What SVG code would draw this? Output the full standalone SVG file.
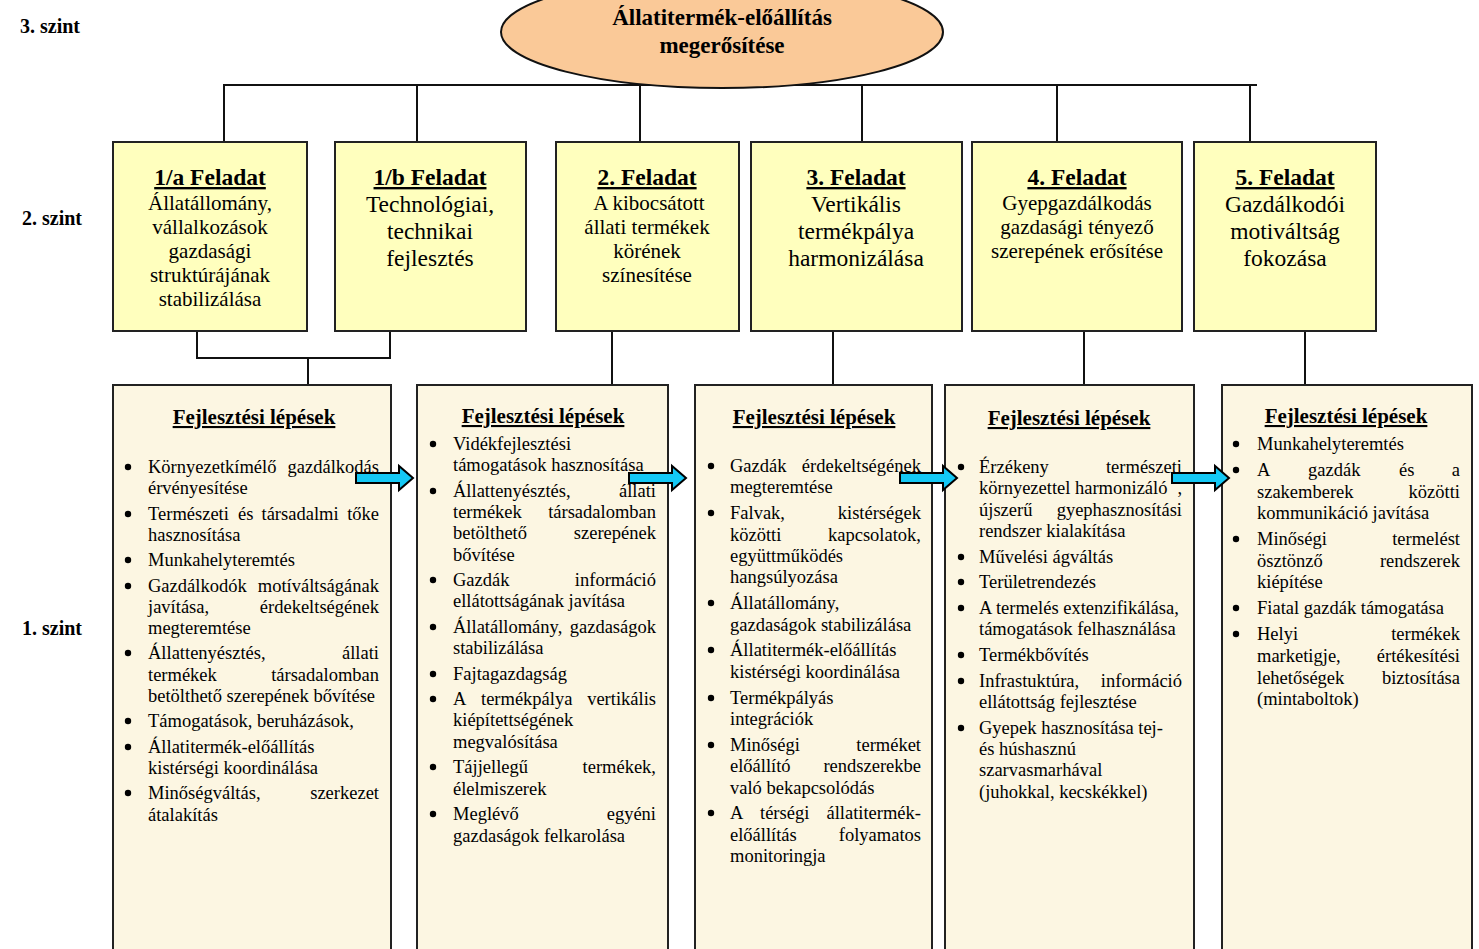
<svg xmlns="http://www.w3.org/2000/svg" width="1479" height="949" viewBox="0 0 1479 949">
<style>
text{font-family:"Liberation Serif","Times New Roman",serif;fill:#000}
.lvl{font-size:20px;font-weight:bold}
.ttl{font-size:23.5px;font-weight:bold;text-anchor:middle;text-decoration:underline}
.b21{font-size:21px;text-anchor:middle}
.b23{font-size:23.5px;text-anchor:middle}
.hdr{font-size:21px;font-weight:bold;text-anchor:middle;text-decoration:underline}
.t{font-size:18.5px}
.r{text-anchor:end}
.top{fill:#FFFFBE;stroke:#222;stroke-width:2}
.low{fill:#FCF6E2;stroke:#222;stroke-width:2}
.ln{stroke:#111;stroke-width:2;fill:none}
.arr{fill:#14C8F5;stroke:#000;stroke-width:2;stroke-linejoin:miter}
.bul{fill:#000}
</style>
<defs>
<polygon id="arrow" points="0,-5 43,-5 43,-12 57,0 43,12 43,5 0,5"/>
</defs>
<rect width="1479" height="949" fill="#fff"/>

<g id="levels">
<text class="lvl" x="20" y="33">3. szint</text>
<text class="lvl" x="22" y="225">2. szint</text>
<text class="lvl" x="22" y="635">1. szint</text>
</g>

<g id="connectors">
<path class="ln" d="M223,85 H1257"/>
<path class="ln" d="M224,85 V142 M417,85 V142 M640,85 V142 M862,85 V142 M1057,85 V142 M1250,85 V142"/>
<path class="ln" d="M197,331 V358 H390 V331 M308,358 V385"/>
<path class="ln" d="M612,331 V385 M833,331 V385 M1084,331 V385 M1305,331 V385"/>
</g>

<g id="goal">
<ellipse cx="722" cy="32" rx="221" ry="56" fill="#FAC998" stroke="#111" stroke-width="2"/>
<text x="722" y="25" style="font-size:23px;font-weight:bold;text-anchor:middle">Állatitermék-előállítás</text>
<text x="722" y="53" style="font-size:23px;font-weight:bold;text-anchor:middle">megerősítése</text>
</g>

<g id="task1a">
<rect class="top" x="113" y="142" width="194" height="189"/>
<text class="ttl" x="210" y="185">1/a Feladat</text>
<text class="b21" x="210" y="210">Állatállomány,</text>
<text class="b21" x="210" y="234">vállalkozások</text>
<text class="b21" x="210" y="258">gazdasági</text>
<text class="b21" x="210" y="282">struktúrájának</text>
<text class="b21" x="210" y="306">stabilizálása</text>
</g>
<g id="task1b">
<rect class="top" x="335" y="142" width="191" height="189"/>
<text class="ttl" x="430" y="185">1/b Feladat</text>
<text class="b23" x="430" y="212">Technológiai,</text>
<text class="b23" x="430" y="239">technikai</text>
<text class="b23" x="430" y="266">fejlesztés</text>
</g>
<g id="task2">
<rect class="top" x="556" y="142" width="183" height="189"/>
<text class="ttl" x="647" y="185">2. Feladat</text>
<text class="b21" x="649" y="210">A kibocsátott</text>
<text class="b21" x="647" y="234">állati termékek</text>
<text class="b21" x="647" y="258">körének</text>
<text class="b21" x="647" y="282">színesítése</text>
</g>
<g id="task3">
<rect class="top" x="751" y="142" width="211" height="189"/>
<text class="ttl" x="856" y="185">3. Feladat</text>
<text class="b23" x="856" y="212">Vertikális</text>
<text class="b23" x="856" y="239">termékpálya</text>
<text class="b23" x="856" y="266">harmonizálása</text>
</g>
<g id="task4">
<rect class="top" x="972" y="142" width="210" height="189"/>
<text class="ttl" x="1077" y="185">4. Feladat</text>
<text class="b21" x="1077" y="210">Gyepgazdálkodás</text>
<text class="b21" x="1077" y="234">gazdasági tényező</text>
<text class="b21" x="1077" y="258">szerepének erősítése</text>
</g>
<g id="task5">
<rect class="top" x="1194" y="142" width="182" height="189"/>
<text class="ttl" x="1285" y="185">5. Feladat</text>
<text class="b23" x="1285" y="212">Gazdálkodói</text>
<text class="b23" x="1285" y="239">motiváltság</text>
<text class="b23" x="1285" y="266">fokozása</text>
</g>

<g id="steps1">
<rect class="low" x="113" y="385" width="278" height="580"/>
<text class="hdr" x="254" y="424">Fejlesztési lépések</text>
<g class="bul">
<circle cx="128" cy="467" r="3.2"/><circle cx="128" cy="514" r="3.2"/><circle cx="128" cy="560" r="3.2"/><circle cx="128" cy="586" r="3.2"/><circle cx="128" cy="653" r="3.2"/><circle cx="128" cy="721" r="3.2"/><circle cx="128" cy="747" r="3.2"/><circle cx="128" cy="793" r="3.2"/>
</g>
<text class="t" x="148" y="473">Környezetkímélő</text><text class="t r" x="379" y="473">gazdálkodás</text>
<text class="t" x="148" y="494">érvényesítése</text>
<text class="t" x="148" y="520">Természeti</text><text class="t" x="238" y="520">és</text><text class="t" x="261.5" y="520">társadalmi</text><text class="t r" x="379" y="520">tőke</text>
<text class="t" x="148" y="541">hasznosítása</text>
<text class="t" x="148" y="566">Munkahelyteremtés</text>
<text class="t" x="148" y="592">Gazdálkodók</text><text class="t r" x="379" y="592">motíváltságának</text>
<text class="t" x="148" y="613">javítása,</text><text class="t r" x="379" y="613">érdekeltségének</text>
<text class="t" x="148" y="634">megteremtése</text>
<text class="t" x="148" y="659">Állattenyésztés,</text><text class="t r" x="379" y="659">állati</text>
<text class="t" x="148" y="681">termékek</text><text class="t r" x="379" y="681">társadalomban</text>
<text class="t" x="148" y="702">betölthető szerepének bővítése</text>
<text class="t" x="148" y="727">Támogatások, beruházások,</text>
<text class="t" x="148" y="753">Állatitermék-előállítás</text>
<text class="t" x="148" y="774">kistérségi koordinálása</text>
<text class="t" x="148" y="799">Minőségváltás,</text><text class="t r" x="379" y="799">szerkezet</text>
<text class="t" x="148" y="821">átalakítás</text>
</g>

<g id="steps2">
<rect class="low" x="417" y="385" width="251" height="580"/>
<text class="hdr" x="543" y="423">Fejlesztési lépések</text>
<g class="bul">
<circle cx="433" cy="444" r="3.2"/><circle cx="433" cy="491" r="3.2"/><circle cx="433" cy="580" r="3.2"/><circle cx="433" cy="627" r="3.2"/><circle cx="433" cy="674" r="3.2"/><circle cx="433" cy="699" r="3.2"/><circle cx="433" cy="767" r="3.2"/><circle cx="433" cy="814" r="3.2"/>
</g>
<text class="t" x="453" y="450">Vidékfejlesztési</text>
<text class="t" x="453" y="471">támogatások hasznosítása</text>
<text class="t" x="453" y="497">Állattenyésztés,</text><text class="t r" x="656" y="497">állati</text>
<text class="t" x="453" y="518">termékek</text><text class="t r" x="656" y="518">társadalomban</text>
<text class="t" x="453" y="539">betölthető</text><text class="t r" x="656" y="539">szerepének</text>
<text class="t" x="453" y="561">bővítése</text>
<text class="t" x="453" y="586">Gazdák</text><text class="t r" x="656" y="586">információ</text>
<text class="t" x="453" y="607">ellátottságának javítása</text>
<text class="t" x="453" y="633">Állatállomány,</text><text class="t r" x="656" y="633">gazdaságok</text>
<text class="t" x="453" y="654">stabilizálása</text>
<text class="t" x="453" y="680">Fajtagazdagság</text>
<text class="t" x="453" y="705">A</text><text class="t" x="481" y="705">termékpálya</text><text class="t r" x="656" y="705">vertikális</text>
<text class="t" x="453" y="726">kiépítettségének</text>
<text class="t" x="453" y="748">megvalósítása</text>
<text class="t" x="453" y="773">Tájjellegű</text><text class="t r" x="656" y="773">termékek,</text>
<text class="t" x="453" y="795">élelmiszerek</text>
<text class="t" x="453" y="820">Meglévő</text><text class="t r" x="656" y="820">egyéni</text>
<text class="t" x="453" y="842">gazdaságok felkarolása</text>
</g>

<g id="steps3">
<rect class="low" x="695" y="385" width="237" height="580"/>
<text class="hdr" x="814" y="424">Fejlesztési lépések</text>
<g class="bul">
<circle cx="711" cy="466" r="3.2"/><circle cx="711" cy="513" r="3.2"/><circle cx="711" cy="603" r="3.2"/><circle cx="711" cy="650" r="3.2"/><circle cx="711" cy="698" r="3.2"/><circle cx="711" cy="745" r="3.2"/><circle cx="711" cy="813" r="3.2"/>
</g>
<text class="t" x="730" y="472">Gazdák</text><text class="t r" x="921" y="472">érdekeltségének</text>
<text class="t" x="730" y="493">megteremtése</text>
<text class="t" x="730" y="519">Falvak,</text><text class="t r" x="921" y="519">kistérségek</text>
<text class="t" x="730" y="541">közötti</text><text class="t r" x="921" y="541">kapcsolatok,</text>
<text class="t" x="730" y="562">együttműködés</text>
<text class="t" x="730" y="583">hangsúlyozása</text>
<text class="t" x="730" y="609">Állatállomány,</text>
<text class="t" x="730" y="631">gazdaságok stabilizálása</text>
<text class="t" x="730" y="656">Állatitermék-előállítás</text>
<text class="t" x="730" y="678">kistérségi koordinálása</text>
<text class="t" x="730" y="704">Termékpályás</text>
<text class="t" x="730" y="725">integrációk</text>
<text class="t" x="730" y="751">Minőségi</text><text class="t r" x="921" y="751">terméket</text>
<text class="t" x="730" y="772">előállító</text><text class="t r" x="921" y="772">rendszerekbe</text>
<text class="t" x="730" y="794">való bekapcsolódás</text>
<text class="t" x="730" y="819">A</text><text class="t" x="760" y="819">térségi</text><text class="t r" x="921" y="819">állatitermék-</text>
<text class="t" x="730" y="841">előállítás</text><text class="t r" x="921" y="841">folyamatos</text>
<text class="t" x="730" y="862">monitoringja</text>
</g>

<g id="steps4">
<rect class="low" x="945" y="385" width="249" height="580"/>
<text class="hdr" x="1069" y="425">Fejlesztési lépések</text>
<g class="bul">
<circle cx="961" cy="467" r="3.2"/><circle cx="961" cy="557" r="3.2"/><circle cx="961" cy="582" r="3.2"/><circle cx="961" cy="608" r="3.2"/><circle cx="961" cy="655" r="3.2"/><circle cx="961" cy="681" r="3.2"/><circle cx="961" cy="728" r="3.2"/>
</g>
<text class="t" x="979" y="473">Érzékeny</text><text class="t r" x="1182" y="473">természeti</text>
<text class="t" x="979" y="494">környezettel</text><text class="t" x="1075" y="494">harmonizáló</text><text class="t r" x="1182" y="494">,</text>
<text class="t" x="979" y="516">újszerű</text><text class="t r" x="1182" y="516">gyephasznosítási</text>
<text class="t" x="979" y="537">rendszer kialakítása</text>
<text class="t" x="979" y="563">Művelési ágváltás</text>
<text class="t" x="979" y="588">Területrendezés</text>
<text class="t" x="979" y="614">A termelés extenzifikálása,</text>
<text class="t" x="979" y="635">támogatások felhasználása</text>
<text class="t" x="979" y="661">Termékbővítés</text>
<text class="t" x="979" y="687">Infrastuktúra,</text><text class="t r" x="1182" y="687">információ</text>
<text class="t" x="979" y="708">ellátottság fejlesztése</text>
<text class="t" x="979" y="734">Gyepek hasznosítása tej-</text>
<text class="t" x="979" y="755">és húshasznú</text>
<text class="t" x="979" y="776">szarvasmarhával</text>
<text class="t" x="979" y="798">(juhokkal, kecskékkel)</text>
</g>

<g id="steps5">
<rect class="low" x="1222" y="385" width="250" height="580"/>
<text class="hdr" x="1346" y="423">Fejlesztési lépések</text>
<g class="bul">
<circle cx="1236" cy="444" r="3.2"/><circle cx="1236" cy="470" r="3.2"/><circle cx="1236" cy="539" r="3.2"/><circle cx="1236" cy="608" r="3.2"/><circle cx="1236" cy="634" r="3.2"/>
</g>
<text class="t" x="1257" y="450">Munkahelyteremtés</text>
<text class="t" x="1257" y="476">A</text><text class="t" x="1308" y="476">gazdák</text><text class="t" x="1399" y="476">és</text><text class="t r" x="1460" y="476">a</text>
<text class="t" x="1257" y="498">szakemberek</text><text class="t r" x="1460" y="498">közötti</text>
<text class="t" x="1257" y="519">kommunikáció javítása</text>
<text class="t" x="1257" y="545">Minőségi</text><text class="t r" x="1460" y="545">termelést</text>
<text class="t" x="1257" y="567">ösztönző</text><text class="t r" x="1460" y="567">rendszerek</text>
<text class="t" x="1257" y="588">kiépítése</text>
<text class="t" x="1257" y="614">Fiatal gazdák támogatása</text>
<text class="t" x="1257" y="640">Helyi</text><text class="t r" x="1460" y="640">termékek</text>
<text class="t" x="1257" y="662">marketigje,</text><text class="t r" x="1460" y="662">értékesítési</text>
<text class="t" x="1257" y="684">lehetőségek</text><text class="t r" x="1460" y="684">biztosítása</text>
<text class="t" x="1257" y="705">(mintaboltok)</text>
</g>

<g id="arrows">
<use href="#arrow" class="arr" x="356" y="478"/>
<use href="#arrow" class="arr" x="629" y="478"/>
<use href="#arrow" class="arr" x="900" y="478"/>
<use href="#arrow" class="arr" x="1172" y="478"/>
</g>
</svg>
